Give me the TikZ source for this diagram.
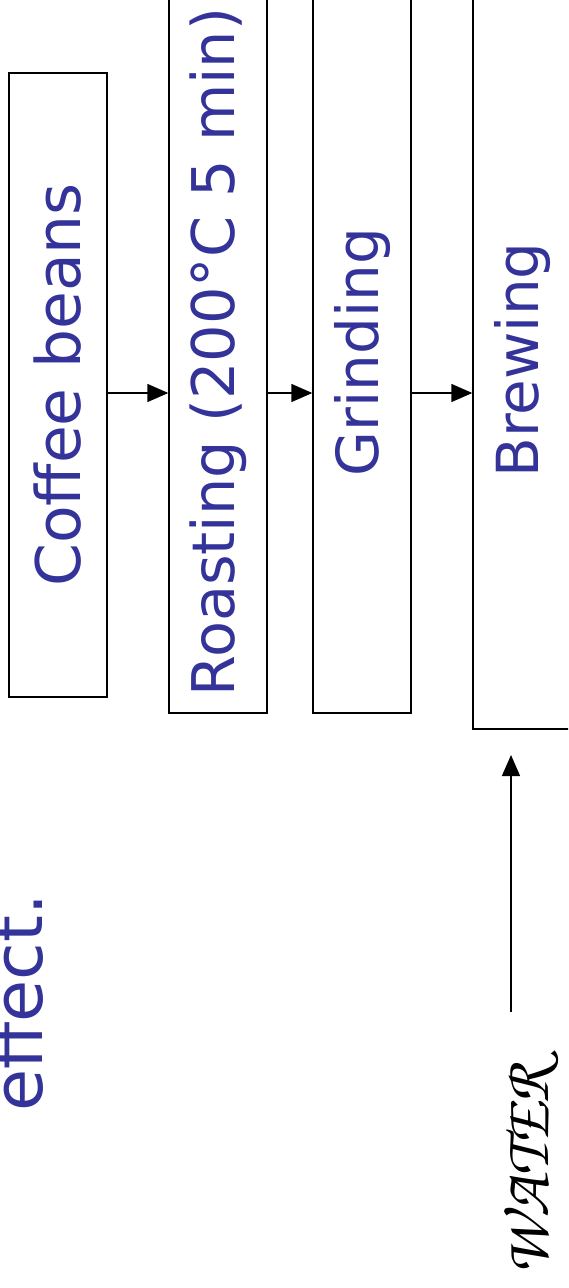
\documentclass[tikz,border=0pt]{standalone}
\usepackage[T1]{fontenc}
\usepackage{fontspec}
\setmainfont{DejaVu Sans}
\usepackage{tikz}
\usetikzlibrary{arrows.meta,positioning}
\definecolor{slideblue}{RGB}{51,51,153}
\newcommand{\chancfont}{\fontencoding{T1}\fontfamily{pzc}\fontseries{mb}\fontshape{it}\selectfont}

\tikzset{
  stage/.style={draw, line width=0.8pt, rotate=90, minimum height=1.96cm,
    inner sep=0pt, text=slideblue, font=\fontsize{33}{40}\selectfont},
  flow/.style={line width=0.8pt, -{Triangle[length=0.42cm, width=0.36cm]}}
}

\begin{document}
\begin{tikzpicture}[x=0.02cm, y=-0.02cm]
    \useasboundingbox (0,0) rectangle (568,1288);
    \clip (0,0) rectangle (568,1288);
    % process stages, read bottom to top
    \node[stage, minimum width=12.48cm, font=\fontsize{35}{42}\selectfont] (beans) at (58,385) {Coffee beans};
    \node[stage, minimum width=14.44cm, font=\fontsize{33.5}{40}\selectfont] (roast) at (218,352) {Roasting (200°C 5 min)};
    \node[stage, minimum width=14.44cm] (grind) at (362,352) {Grinding};
    \node[stage, minimum width=14.76cm] (brew) at (522,360) {Brewing};
    \coordinate (row) at (0,393);
    \draw[flow] ([xshift=-0.04cm]beans.south |- row) -- (roast.north |- row);
    \draw[flow] ([xshift=-0.04cm]roast.south |- row) -- (grind.north |- row);
    \draw[flow] ([xshift=-0.04cm]grind.south |- row) -- (brew.north |- row);
    % water feed into brewing
    \node[rotate=90, anchor=base, font=\chancfont\fontsize{37}{44}\selectfont] (water) at (548,1170) {WATER};
    \coordinate (feed) at (511,1012);
    \draw[flow] (feed) -- (feed |- 0,755);
    % leftover line of slide text, running off the left edge
    \node[rotate=90, anchor=base, text=slideblue, font=\fontsize{39}{46}\selectfont] (tail) at (42,1003) {effect.};
\end{tikzpicture}
\end{document}
